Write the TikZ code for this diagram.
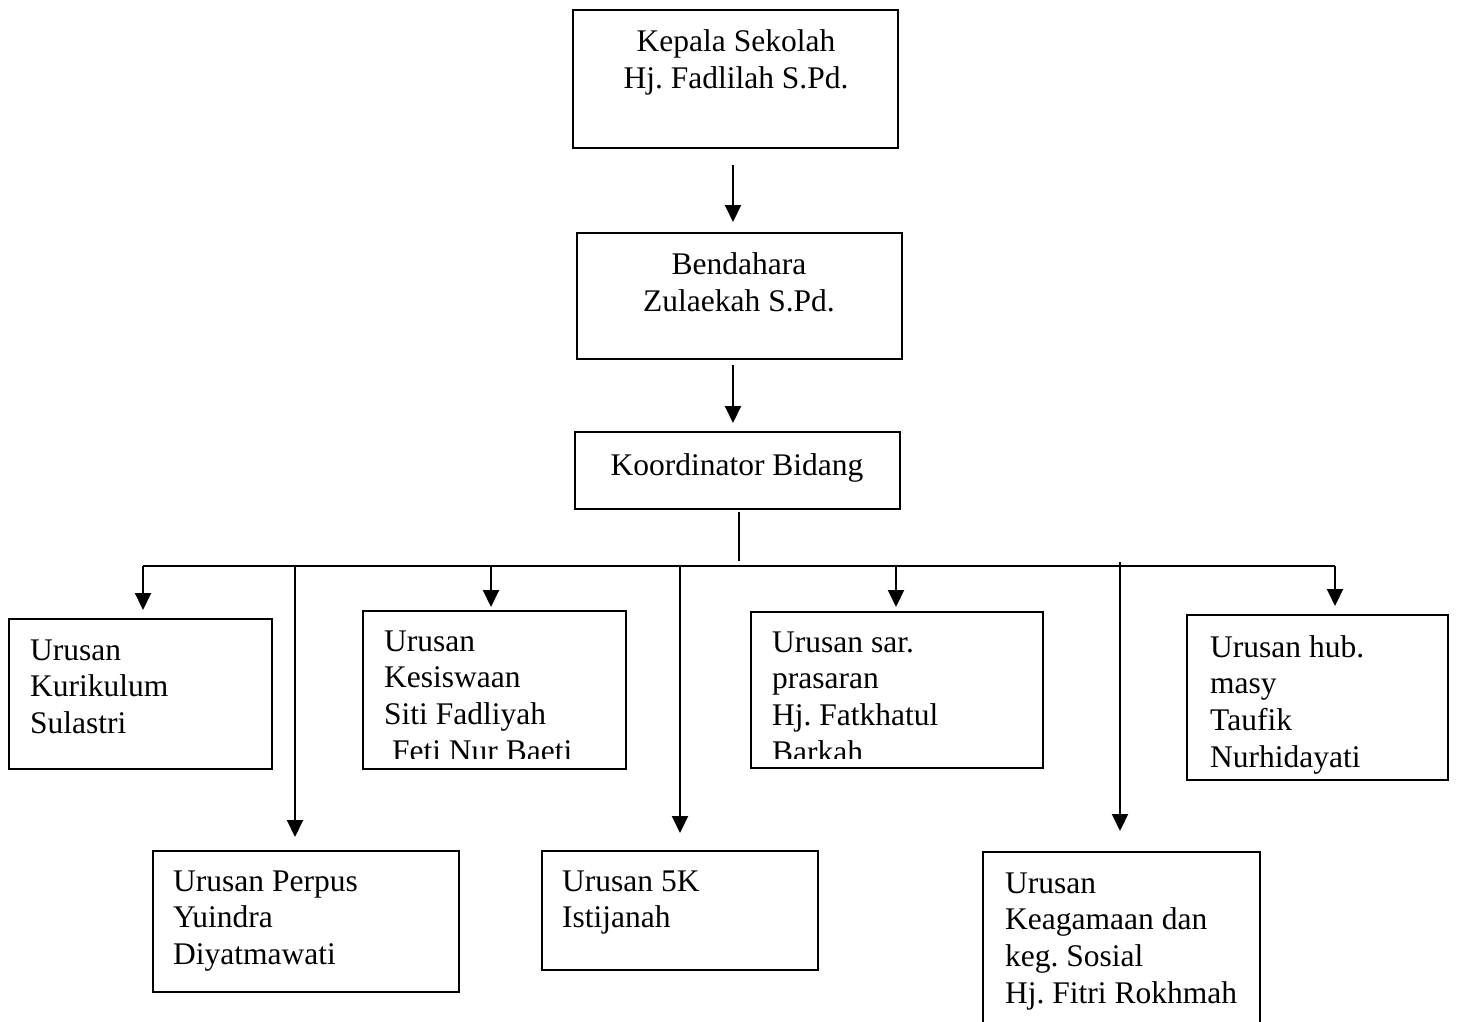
\documentclass[tikz,border=0pt]{standalone}
\usepackage{fontspec}
\setmainfont{Liberation Serif}
\usetikzlibrary{arrows.meta}
\begin{document}
\frenchspacing
\begin{tikzpicture}[x=1pt,y=-1pt,
  box/.style={draw, line width=1.9pt, anchor=north west, inner sep=0pt, outer sep=0pt},
  txt/.style={anchor=base west, inner sep=0pt, font=\fontsize{31.5}{36.8}\selectfont\frenchspacing},
  ctxt/.style={anchor=base, inner sep=0pt, font=\fontsize{31.5}{37.5}\selectfont\frenchspacing},
  arr/.style={line width=2pt, -{Triangle[length=17pt,width=16pt]}},
  bus/.style={line width=2.2pt},
  stem/.style={line width=1.3pt}]
\clip (0,0) rectangle (1461,1021);
\fill[white] (0,0) rectangle (1461,1021);

% top boxes
\node[box, minimum width=325pt, minimum height=138pt] (kep) at (573,10) {};
\node[ctxt] (kept) at (736,51) {\begin{tabular}[t]{@{}c@{}}Kepala Sekolah\\Hj. Fadlilah S.Pd.\end{tabular}};
\node[box, minimum width=325pt, minimum height=126pt] (ben) at (577,233) {};
\node[ctxt] (bent) at (739,274) {\begin{tabular}[t]{@{}c@{}}Bendahara\\Zulaekah S.Pd.\end{tabular}};
\node[box, minimum width=325pt, minimum height=77pt] (koord) at (575,432) {};
\node[ctxt] (koordt) at (737,475) {Koordinator Bidang};

% lower boxes
\node[box, minimum width=263pt, minimum height=150pt] (kur) at (9,619) {};
\node[txt] (kurt) at (30,660) {\begin{tabular}[t]{@{}l@{}}Urusan\\Kurikulum\\Sulastri\end{tabular}};

\node[box, minimum width=263pt, minimum height=158pt] (kes) at (363,611) {};
\begin{scope}
\clip (363,611) rectangle (626,758);
\node[txt] (kest) at (384,651) {\begin{tabular}[t]{@{}l@{}}Urusan\\Kesiswaan\\Siti Fadliyah\\\ Feti Nur Baeti\end{tabular}};
\end{scope}

\node[box, minimum width=292pt, minimum height=156pt] (sar) at (751,612) {};
\begin{scope}
\clip (751,612) rectangle (1043,758);
\node[txt] (sart) at (772,652) {\begin{tabular}[t]{@{}l@{}}Urusan sar.\\prasaran\\Hj. Fatkhatul\\Barkah\end{tabular}};
\end{scope}

\node[box, minimum width=261pt, minimum height=165pt] (hub) at (1187,615) {};
\node[txt] (hubt) at (1210,657) {\begin{tabular}[t]{@{}l@{}}Urusan hub.\\masy\\Taufik\\Nurhidayati\end{tabular}};

\node[box, minimum width=306pt, minimum height=141pt] (per) at (153,851) {};
\node[txt] (pert) at (173,891) {\begin{tabular}[t]{@{}l@{}}Urusan Perpus\\Yuindra\\Diyatmawati\end{tabular}};

\node[box, minimum width=276pt, minimum height=119pt] (k5) at (542,851) {};
\node[txt] (k5t) at (562,891) {\begin{tabular}[t]{@{}l@{}}Urusan 5K\\Istijanah\end{tabular}};

\node[box, minimum width=277pt, minimum height=200pt] (keg) at (983,852) {};
\node[txt] (kegt) at (1005,893) {\begin{tabular}[t]{@{}l@{}}Urusan\\Keagamaan dan\\keg. Sosial\\Hj. Fitri Rokhmah\end{tabular}};

% connectors top
\draw[arr, shorten <=17pt, shorten >=11pt] ([xshift=-2.5pt]kep.south) -- ([xshift=-2.5pt]kep.south |- ben.north);
\draw[arr, shorten <=6pt, shorten >=9pt] ([xshift=-6.5pt]ben.south) -- ([xshift=-6.5pt]ben.south |- koord.north);

% bus
\coordinate (bl) at (143,566);
\coordinate (br) at (1335,566);
\coordinate (kg) at (739,561);
\draw[stem, shorten <=3pt] (koord.south -| kg) -- (kg);
\draw[bus] (bl) -- (br);

% arrow tips
\coordinate (t1) at (143,610);
\coordinate (t2) at (295,837);
\coordinate (t3) at (491,607);
\coordinate (t4) at (680,833);
\coordinate (t5) at (896,607);
\coordinate (t6) at (1120,831);
\coordinate (t7) at (1335,606);
\draw[arr] (t1 |- bl) -- (t1);
\draw[arr] (t2 |- bl) -- (t2);
\draw[arr] (t3 |- bl) -- (t3);
\draw[arr] (t4 |- bl) -- (t4);
\draw[arr] (t5 |- bl) -- (t5);
\draw[arr] (t6 |- bl) ++(0,-4) -- (t6);
\draw[arr] (t7 |- bl) -- (t7);
\end{tikzpicture}
\end{document}
